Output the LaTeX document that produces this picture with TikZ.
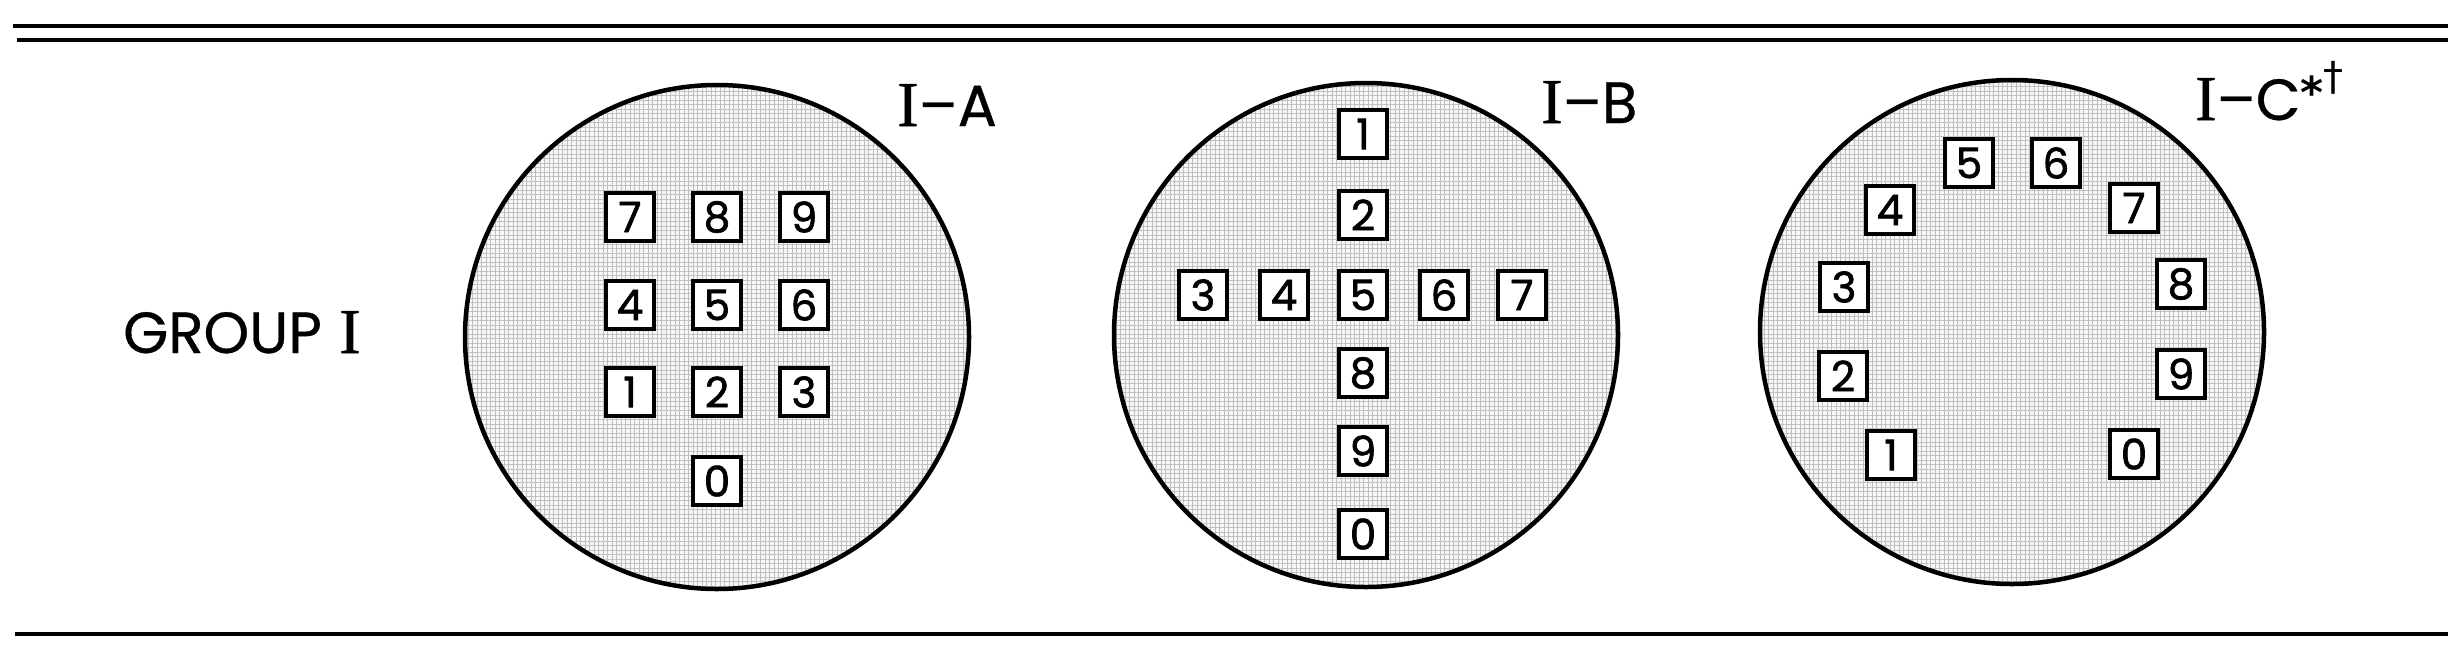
\documentclass[tikz,border=0pt]{standalone}
\usepackage{fontspec}
\setmainfont{Poppins}[FakeBold=0.6]
\newfontfamily\digf{Poppins}[FakeBold=1.6]
\newfontfamily\serifI{Liberation Serif}[FakeBold=0.8]
\newfontfamily\symf{DejaVu Sans}
\usetikzlibrary{patterns.meta}
\begin{document}
\begin{tikzpicture}[x=1pt,y=-1pt,
  keybox/.style={draw=black, line width=3.8pt, fill=white, minimum size=48.5pt,
    inner sep=0pt, font=\digf\fontsize{42}{42}\selectfont},
  dial/.style={circle, draw=black, line width=4.5pt, minimum size=504pt, inner sep=0pt,
    preaction={fill=black!3},
    preaction={pattern={Lines[angle=0,distance=4.5pt,line width=0.8pt]}, pattern color=black!25},
    preaction={pattern={Lines[angle=90,distance=4.5pt,line width=0.8pt]}, pattern color=black!25}},
  rulel/.style={line width=4.5pt},
  lbl/.style={anchor=base west, inner sep=0pt, font=\fontsize{58}{58}\selectfont}]
\useasboundingbox (0,0) rectangle (2458,649);
% rules
\coordinate (t1l) at (13,26); \coordinate (t1r) at (2448,26);
\coordinate (t2l) at (17,40); \coordinate (t2r) at (2448,40);
\coordinate (bl) at (15,634); \coordinate (br) at (2448,634);
\draw[rulel] (t1l) -- (t1r);
\draw[rulel] (t2l) -- (t2r);
\draw[rulel] (bl) -- (br);
% group label
\node[lbl] (grp) at (123,353) {GROUP\hspace{0.3em}{\serifI\fontsize{64}{64}\selectfont I}};
% dials
\node[dial] (dA) at (717,337) {};
\node[dial] (dB) at (1366,335) {};
\node[dial] (dC) at (2012,332) {};
% labels
\node[lbl] (lA) at (897,126) {{\serifI\fontsize{64}{64}\selectfont I}–A};
\node[lbl] (lB) at (1541,123) {{\serifI\fontsize{64}{64}\selectfont I}–B};
\node[lbl] (lC) at (2195,120) {{\serifI\fontsize{64}{64}\selectfont I}–C\raisebox{12pt}{\symf\fontsize{44}{44}\selectfont\bfseries *}\raisebox{30pt}{\symf\fontsize{40}{40}\selectfont †}};
% I-A keys
\node[keybox] (a7) at (630,217) {7};
\node[keybox] (a8) at (717,217) {8};
\node[keybox] (a9) at (804,217) {9};
\node[keybox] (a4) at (630,305) {4};
\node[keybox] (a5) at (717,305) {5};
\node[keybox] (a6) at (804,305) {6};
\node[keybox] (a1) at (630,392) {1};
\node[keybox] (a2) at (717,392) {2};
\node[keybox] (a3) at (804,392) {3};
\node[keybox] (a0) at (717,481) {0};
% I-B keys
\node[keybox] (b1) at (1363,134) {1};
\node[keybox] (b2) at (1363,215) {2};
\node[keybox] (b3) at (1203,295) {3};
\node[keybox] (b4) at (1284,295) {4};
\node[keybox] (b5) at (1363,295) {5};
\node[keybox] (b6) at (1444,295) {6};
\node[keybox] (b7) at (1522,295) {7};
\node[keybox] (b8) at (1363,373) {8};
\node[keybox] (b9) at (1363,451) {9};
\node[keybox] (b0) at (1363,534) {0};
% I-C keys
\node[keybox] (c5) at (1969,163) {5};
\node[keybox] (c6) at (2056,163) {6};
\node[keybox] (c4) at (1890,210) {4};
\node[keybox] (c7) at (2134,208) {7};
\node[keybox] (c3) at (1844,287) {3};
\node[keybox] (c8) at (2181,284) {8};
\node[keybox] (c2) at (1843,376) {2};
\node[keybox] (c9) at (2181,374) {9};
\node[keybox] (c1) at (1891,455) {1};
\node[keybox] (c0) at (2134,454) {0};
\end{tikzpicture}
\end{document}
